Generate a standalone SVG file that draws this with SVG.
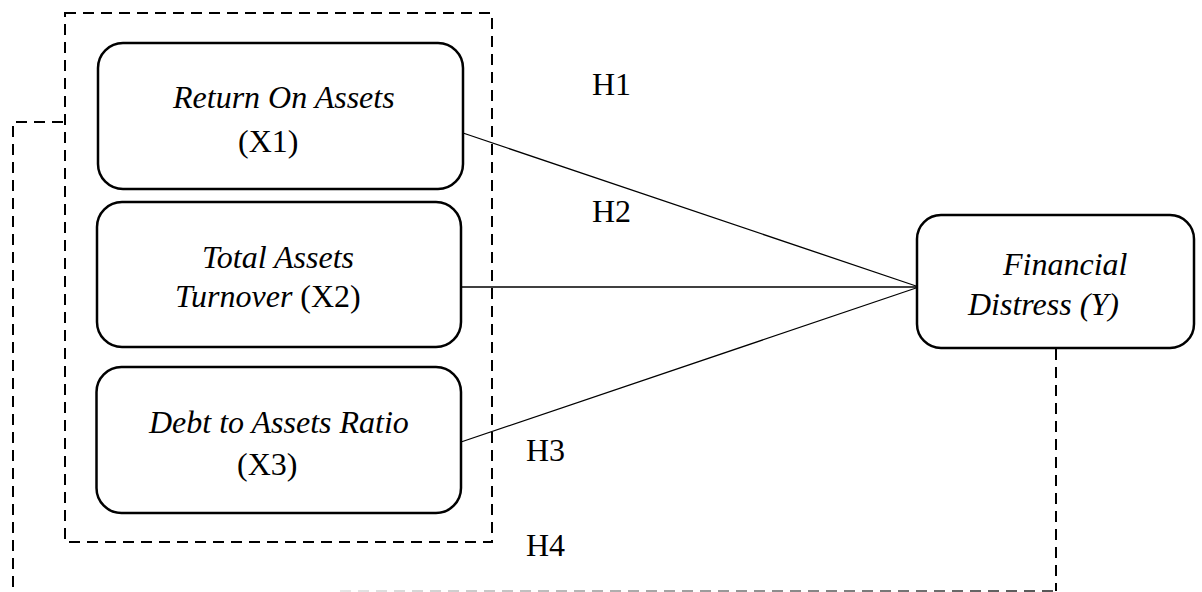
<svg xmlns="http://www.w3.org/2000/svg" width="1202" height="592" viewBox="0 0 1202 592">
  <style>
    .node { fill: #ffffff; stroke: #000000; stroke-width: 2.5; }
    .dash { fill: none; stroke: #000000; stroke-width: 2; stroke-dasharray: 11 7; }
    .conn { fill: none; stroke: #000000; stroke-width: 1.3; }
    .t { font-family: "Liberation Serif", "Times New Roman", serif; font-size: 32px; fill: #000000; }
    .i { font-style: italic; }
  </style>
  <defs>
    <linearGradient id="fade" gradientUnits="userSpaceOnUse" x1="340" y1="0" x2="1056" y2="0">
      <stop offset="0" stop-color="#e6e6e6"/>
      <stop offset="1" stop-color="#555555"/>
    </linearGradient>
  </defs>
  <rect width="1202" height="592" fill="#ffffff"/>

  <g id="groups">
    <rect id="independent-group" class="dash" x="65" y="13" width="427" height="529"/>
    <polyline id="h4-bracket-left" class="dash" points="63,122 13,122 13,592"/>
    <line id="h4-bracket-right" class="dash" x1="1056" y1="349" x2="1056" y2="591"/>
    <line id="h4-bracket-bottom" x1="340" y1="591" x2="1056" y2="591" stroke="url(#fade)" stroke-width="2" stroke-dasharray="11 7"/>
  </g>

  <g id="connectors">
    <line class="conn" x1="463" y1="133" x2="919" y2="287"/>
    <line class="conn" x1="461" y1="287" x2="919" y2="287"/>
    <line class="conn" x1="461" y1="442" x2="919" y2="287"/>
  </g>

  <g id="node-x1">
    <rect class="node" x="98" y="43" width="365" height="146" rx="25" ry="25"/>
    <text class="t i" x="173" y="108">Return On Assets</text>
    <text class="t" x="238" y="152">(X1)</text>
  </g>

  <g id="node-x2">
    <rect class="node" x="97" y="202" width="364" height="145" rx="25" ry="25"/>
    <text class="t i" x="202" y="268">Total Assets</text>
    <text class="t" x="175" y="307"><tspan class="i">Turnover</tspan> (X2)</text>
  </g>

  <g id="node-x3">
    <rect class="node" x="96.5" y="367" width="364.5" height="146" rx="25" ry="25"/>
    <text class="t i" x="149" y="433">Debt to Assets Ratio</text>
    <text class="t" x="237" y="475">(X3)</text>
  </g>

  <g id="node-y">
    <rect class="node" x="917" y="215" width="277" height="133" rx="24" ry="24"/>
    <text class="t i" x="1003" y="275">Financial</text>
    <text class="t i" x="968" y="315">Distress (Y)</text>
  </g>

  <g id="labels">
    <text class="t" x="592" y="95">H1</text>
    <text class="t" x="592" y="222">H2</text>
    <text class="t" x="526" y="461">H3</text>
    <text class="t" x="526" y="556">H4</text>
  </g>
</svg>
